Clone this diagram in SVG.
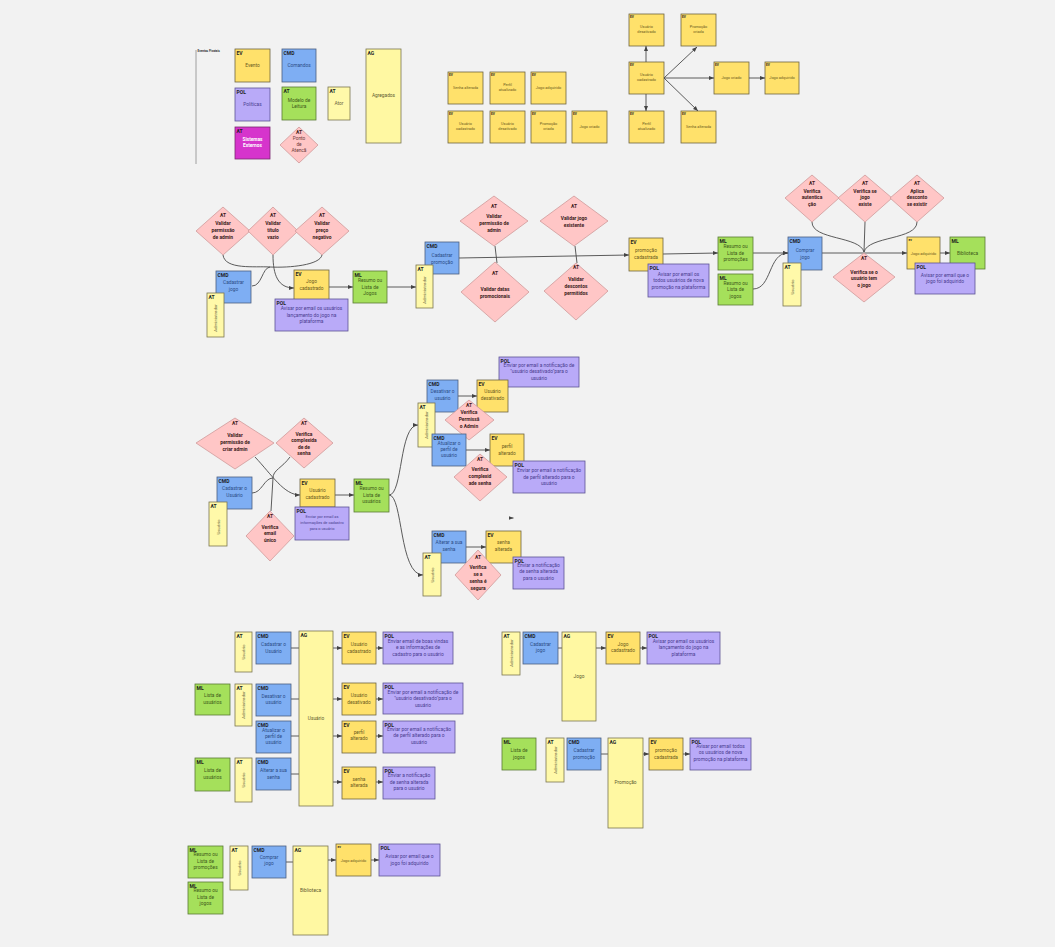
<svg xmlns="http://www.w3.org/2000/svg" width="1055" height="947" viewBox="0 0 1055 947">
<defs>
<marker id="ah" viewBox="0 0 10 10" refX="10" refY="5" markerWidth="5" markerHeight="5" markerUnits="userSpaceOnUse" orient="auto"><path d="M0,1 L10,5 L0,9 z" fill="#444"/></marker>
<style>
text{font-family:Roboto,"Liberation Sans",sans-serif}
.ev{fill:#ffe16b;stroke:#6e6440;stroke-width:0.8}
.cmd{fill:#7eaef3;stroke:#4c5f80;stroke-width:0.8}
.pol{fill:#b9aaf8;stroke:#5d5494;stroke-width:0.8}
.ml{fill:#a5e05b;stroke:#5b7a35;stroke-width:0.8}
.at{fill:#fff9a9;stroke:#7a7650;stroke-width:0.8}
.ag{fill:#fff8a2;stroke:#7a7650;stroke-width:0.8}
.ext{fill:#d634cc;stroke:#7a2a70;stroke-width:0.8}
.dia{fill:#ffc6c6;stroke:#cf9a9a;stroke-width:0.8}
.lb{font-size:5px;font-weight:bold;fill:#1e1e1e}
.sl{font-size:3.2px;font-weight:bold;fill:#1e1e1e}
.t{font-size:4.8px;text-anchor:middle}
.ts{font-size:3.8px;text-anchor:middle;fill:#6b5a1e}
.tp{font-size:4.9px;text-anchor:middle;fill:#4a3d90}
.c-ev{fill:#6b5a1e}
.c-cmd{fill:#2b4c86}
.c-ml{fill:#3d5a1a}
.c-at{fill:#6a6440}
.c-ag{fill:#5e5a30}
.d{font-size:4.9px;font-weight:bold;text-anchor:middle;fill:#3a1a1a}
.v{font-size:4.4px;text-anchor:middle;fill:#6a6440}
.cn{fill:none;stroke:#4a4a4a;stroke-width:0.9}
.cna{fill:none;stroke:#4a4a4a;stroke-width:0.9;marker-end:url(#ah)}
</style>
</defs>
<rect width="1055" height="947" fill="#f2f2f2"/>

<!-- LEGEND -->
<g id="legend-title"><line x1="196" y1="50" x2="196" y2="164" stroke="#8a8a8a" stroke-width="0.8"/><text x="197.5" y="52" style="font-size:3px;font-weight:bold;fill:#333">Eventos Pivotais</text></g>
<g id="leg-ev"><rect class="ev" x="235" y="49" width="35" height="33"/><text class="lb" x="236.5" y="54.5">EV</text><text class="t c-ev" x="252.5" y="67">Evento</text></g>
<g id="leg-cmd"><rect class="cmd" x="282" y="49" width="34" height="33"/><text class="lb" x="283.5" y="54.5">CMD</text><text class="t c-cmd" x="299" y="67">Comandos</text></g>
<g id="leg-pol"><rect class="pol" x="235" y="88" width="35" height="33"/><text class="lb" x="236.5" y="93.5">POL</text><text class="t" style="fill:#4a3d90" x="252.5" y="106">Políticas</text></g>
<g id="leg-ml"><rect class="ml" x="282" y="87" width="34" height="33"/><text class="lb" x="283.5" y="92.5">AT</text><text class="t c-ml" x="299" y="102">Modelo de</text><text class="t c-ml" x="299" y="108">Leitura</text></g>
<g id="leg-at"><rect class="at" x="328" y="87" width="22" height="33"/><text class="lb" x="329.5" y="92.5">AT</text><text class="t c-at" x="339" y="105">Ator</text></g>
<g id="leg-ext"><rect class="ext" x="235" y="127" width="35" height="32"/><text class="lb" x="236.5" y="132.5">AT</text><text class="t" style="fill:#fff;font-weight:bold" x="252.5" y="141">Sistemas</text><text class="t" style="fill:#fff;font-weight:bold" x="252.5" y="147">Externos</text></g>
<g id="leg-dia"><polygon class="dia" points="299,127 318,145 299,163 280,145"/><text class="d" x="299" y="134">AT</text><text class="t" style="fill:#6a3a3a" x="299" y="140">Ponto</text><text class="t" style="fill:#6a3a3a" x="299" y="146">de</text><text class="t" style="fill:#6a3a3a" x="299" y="152">Atencã</text></g>
<g id="leg-ag"><rect class="ag" x="366" y="49" width="35" height="94"/><text class="lb" x="367.5" y="54.5">AG</text><text class="t c-ag" x="383.5" y="97">Agregados</text></g>

<!-- PIVOTAL EVENTS -->
<g id="pe-senha"><rect class="ev" x="448" y="72" width="35" height="32"/><text class="sl" x="449" y="75.5">EV</text><text class="ts" x="465.5" y="89">Senha alterada</text></g>
<g id="pe-perfil"><rect class="ev" x="490" y="72" width="35" height="32"/><text class="sl" x="491" y="75.5">EV</text><text class="ts" x="507.5" y="86">Perfil</text><text class="ts" x="507.5" y="91">atualizado</text></g>
<g id="pe-jogoadq"><rect class="ev" x="531" y="72" width="35" height="32"/><text class="sl" x="532" y="75.5">EV</text><text class="ts" x="548.5" y="89">Jogo adquirido</text></g>
<g id="pe-usucad"><rect class="ev" x="448" y="111" width="35" height="32"/><text class="sl" x="449" y="114.5">EV</text><text class="ts" x="465.5" y="125">Usuário</text><text class="ts" x="465.5" y="130">cadastrado</text></g>
<g id="pe-usudes"><rect class="ev" x="490" y="111" width="35" height="32"/><text class="sl" x="491" y="114.5">EV</text><text class="ts" x="507.5" y="125">Usuário</text><text class="ts" x="507.5" y="130">desativado</text></g>
<g id="pe-promo"><rect class="ev" x="531" y="111" width="35" height="32"/><text class="sl" x="532" y="114.5">EV</text><text class="ts" x="548.5" y="125">Promoção</text><text class="ts" x="548.5" y="130">criada</text></g>
<g id="pe-jogocri"><rect class="ev" x="572" y="111" width="35" height="32"/><text class="sl" x="573" y="114.5">EV</text><text class="ts" x="589.5" y="128">Jogo criado</text></g>

<!-- TOP RIGHT TIMELINE -->
<g id="tr-usudes"><rect class="ev" x="629" y="14" width="35" height="32"/><text class="sl" x="630" y="17.5">EV</text><text class="ts" x="646.5" y="28">Usuário</text><text class="ts" x="646.5" y="33">desativado</text></g>
<g id="tr-promo"><rect class="ev" x="681" y="14" width="35" height="32"/><text class="sl" x="682" y="17.5">EV</text><text class="ts" x="698.5" y="28">Promoção</text><text class="ts" x="698.5" y="33">criada</text></g>
<g id="tr-usucad"><rect class="ev" x="629" y="62" width="35" height="32"/><text class="sl" x="630" y="65.5">EV</text><text class="ts" x="646.5" y="76">Usuário</text><text class="ts" x="646.5" y="81">cadastrado</text></g>
<g id="tr-jogocri"><rect class="ev" x="714" y="62" width="35" height="32"/><text class="sl" x="715" y="65.5">EV</text><text class="ts" x="731.5" y="79">Jogo criado</text></g>
<g id="tr-jogoadq"><rect class="ev" x="765" y="62" width="34" height="32"/><text class="sl" x="766" y="65.5">EV</text><text class="ts" x="782" y="79">Jogo adquirido</text></g>
<g id="tr-perfil"><rect class="ev" x="629" y="111" width="35" height="32"/><text class="sl" x="630" y="114.5">EV</text><text class="ts" x="646.5" y="125">Perfil</text><text class="ts" x="646.5" y="130">atualizado</text></g>
<g id="tr-senha"><rect class="ev" x="681" y="111" width="35" height="32"/><text class="sl" x="682" y="114.5">EV</text><text class="ts" x="698.5" y="128">Senha alterada</text></g>

<!-- CONNECTORS -->
<g id="connectors">
<path class="cna" d="M646,62 L646,46"/>
<path class="cna" d="M646,94 L646,111"/>
<path class="cna" d="M664,78 L697,47"/>
<path class="cna" d="M664,78 L714,78"/>
<path class="cna" d="M664,78 L698,111"/>
<path class="cna" d="M749,78 L765,78"/>

<path class="cn" d="M223,255 C225,270 255,266 270,267 C290,268 320,265 322,255"/>
<path class="cna" d="M273,255 C273,275 278,288 294,288"/>
<path class="cn" d="M252,286 C262,286 262,268 270,267"/>
<path class="cna" d="M329,287 L353,287"/>
<path class="cna" d="M387,287 L416,287"/>
<path class="cna" d="M459,258 L629,255"/>
<path class="cn" d="M495,246 L497,263"/>
<path class="cn" d="M575,246 L577,263"/>
<path class="cna" d="M663,254 L718,253"/>
<path class="cna" d="M753,253 L788,253"/>
<path class="cna" d="M753,289 C772,289 768,253 788,253"/>
<path class="cna" d="M822,253 L907,253"/>
<path class="cn" d="M812,222 C812,240 860,236 864,252"/>
<path class="cn" d="M865,222 L864,252"/>
<path class="cn" d="M917,222 C917,240 868,236 864,252"/>
<path class="cna" d="M940,253 L950,253"/>

<path class="cna" d="M255,457 C272,475 284,495 300,495"/>
<path class="cn" d="M252,493 C262,493 264,478 273,478"/>
<path class="cn" d="M290,457 C282,468 273,470 273,478 L271,511"/>
<path class="cna" d="M335,495 L354,495"/>
<path class="cna" d="M389,495 C403,495 399,425 418,425"/>
<path class="cna" d="M389,495 C403,495 399,575 423,575"/>
<path class="cna" d="M458,396 L477,396"/>
<path class="cna" d="M466,450 L490,450"/>
<path class="cna" d="M466,547 L486,547"/>
<path class="cna" d="M510,518 L513.5,518"/>

<path class="cn" d="M291,648 L299,648"/>
<path class="cn" d="M291,699 L299,699"/>
<path class="cn" d="M291,736 L299,736"/>
<path class="cn" d="M291,774 L299,774"/>
<path class="cna" d="M333,648 L342,648"/>
<path class="cna" d="M333,699 L342,699"/>
<path class="cna" d="M333,736 L342,736"/>
<path class="cna" d="M333,782 L342,782"/>
<path class="cna" d="M376,648 L383,648"/>
<path class="cna" d="M376,699 L383,699"/>
<path class="cna" d="M376,736 L383,736"/>
<path class="cna" d="M376,782 L383,782"/>

<path class="cn" d="M558,648 L562,648"/>
<path class="cna" d="M596,648 L606,648"/>
<path class="cna" d="M640,648 L647,648"/>
<path class="cn" d="M601,754 L608,754"/>
<path class="cna" d="M643,754 L649,754"/>
<path class="cna" d="M683,754 L690,754"/>

<path class="cn" d="M286,862 L293,862"/>
<path class="cna" d="M328,860 L336,860"/>
<path class="cna" d="M371,860 L379,860"/>
</g>

<!-- ROW 2: CADASTRAR JOGO -->
<g id="r2-dia1"><polygon class="dia" points="223,207 250,231 223,255 196,231"/><text class="d" x="223" y="217">AT</text><text class="d" x="223" y="225">Validar</text><text class="d" x="223" y="232">permissão</text><text class="d" x="223" y="239">de admin</text></g>
<g id="r2-dia2"><polygon class="dia" points="273,207 298,231 273,255 248,231"/><text class="d" x="273" y="217">AT</text><text class="d" x="273" y="225">Validar</text><text class="d" x="273" y="232">título</text><text class="d" x="273" y="239">vazio</text></g>
<g id="r2-dia3"><polygon class="dia" points="322,207 349,231 322,255 295,231"/><text class="d" x="322" y="217">AT</text><text class="d" x="322" y="225">Validar</text><text class="d" x="322" y="232">preço</text><text class="d" x="322" y="239">negativo</text></g>
<g id="r2-cmd"><rect class="cmd" x="216" y="271" width="35" height="32"/><text class="lb" x="217.5" y="276.5">CMD</text><text class="t c-cmd" x="233.5" y="284">Cadastrar</text><text class="t c-cmd" x="233.5" y="291">jogo</text></g>
<g id="r2-at"><rect class="at" x="207" y="293" width="17" height="44"/><text class="lb" x="208.5" y="298.5">AT</text><text class="v" transform="rotate(-90 215.5 318)" x="215.5" y="319.5">Administrador</text></g>
<g id="r2-ev"><rect class="ev" x="294" y="270" width="35" height="30"/><text class="lb" x="295.5" y="275.5">EV</text><text class="t c-ev" x="311.5" y="283">Jogo</text><text class="t c-ev" x="311.5" y="290">cadastrado</text></g>
<g id="r2-pol"><rect class="pol" x="275" y="299" width="73" height="32"/><text class="lb" x="276.5" y="304.5">POL</text><text class="tp" x="311.5" y="310">Avisar por email os usuários</text><text class="tp" x="311.5" y="316.5">lançamento do jogo na</text><text class="tp" x="311.5" y="323">plataforma</text></g>
<g id="r2-ml"><rect class="ml" x="353" y="271" width="34" height="32"/><text class="lb" x="354.5" y="276.5">ML</text><text class="t c-ml" x="370" y="282">Resumo ou</text><text class="t c-ml" x="370" y="288.5">Lista de</text><text class="t c-ml" x="370" y="295">Jogos</text></g>

<!-- ROW 2: CADASTRAR PROMOCAO -->
<g id="r2-cmd2"><rect class="cmd" x="425" y="242" width="34" height="32"/><text class="lb" x="426.5" y="247.5">CMD</text><text class="t c-cmd" x="442" y="257">Cadastrar</text><text class="t c-cmd" x="442" y="264">promoção</text></g>
<g id="r2-at2"><rect class="at" x="416" y="265" width="17" height="43"/><text class="lb" x="417.5" y="270.5">AT</text><text class="v" transform="rotate(-90 424.5 290)" x="424.5" y="291.5">Administrador</text></g>
<g id="r2-dia4"><polygon class="dia" points="494,196 528,221 494,246 460,221"/><text class="d" x="494" y="208">AT</text><text class="d" x="494" y="218">Validar</text><text class="d" x="494" y="225">permissão de</text><text class="d" x="494" y="232">admin</text></g>
<g id="r2-dia5"><polygon class="dia" points="495,262 529,292 495,322 461,292"/><text class="d" x="495" y="275">AT</text><text class="d" x="495" y="291">Validar datas</text><text class="d" x="495" y="298">promocionais</text></g>
<g id="r2-dia6"><polygon class="dia" points="574,196 608,221 574,246 540,221"/><text class="d" x="574" y="208">AT</text><text class="d" x="574" y="220">Validar jogo</text><text class="d" x="574" y="227">existente</text></g>
<g id="r2-dia7"><polygon class="dia" points="576,263 608,291 576,320 544,291"/><text class="d" x="576" y="269">AT</text><text class="d" x="576" y="281">Validar</text><text class="d" x="576" y="288">descontos</text><text class="d" x="576" y="295">permitidos</text></g>
<g id="r2-ev2"><rect class="ev" x="629" y="238" width="34" height="33"/><text class="lb" x="630.5" y="243.5">EV</text><text class="t c-ev" x="646" y="252">promoção</text><text class="t c-ev" x="646" y="259">cadastrada</text></g>
<g id="r2-pol2"><rect class="pol" x="648" y="264" width="61" height="33"/><text class="lb" x="649.5" y="269.5">POL</text><text class="tp" x="678.5" y="275.5">Avisar por email os</text><text class="tp" x="678.5" y="282">todos usuários de nova</text><text class="tp" x="678.5" y="288.5">promoção na plataforma</text></g>

<!-- ROW 2: COMPRAR JOGO -->
<g id="r2-mlpromo"><rect class="ml" x="718" y="237" width="35" height="33"/><text class="lb" x="719.5" y="242.5">ML</text><text class="t c-ml" x="735.5" y="248">Resumo ou</text><text class="t c-ml" x="735.5" y="254.5">Lista de</text><text class="t c-ml" x="735.5" y="261">promoções</text></g>
<g id="r2-mljogos"><rect class="ml" x="718" y="274" width="35" height="31"/><text class="lb" x="719.5" y="279.5">ML</text><text class="t c-ml" x="735.5" y="284.5">Resumo ou</text><text class="t c-ml" x="735.5" y="291">Lista de</text><text class="t c-ml" x="735.5" y="297.5">jogos</text></g>
<g id="r2-cmd3"><rect class="cmd" x="788" y="237" width="34" height="33"/><text class="lb" x="789.5" y="242.5">CMD</text><text class="t c-cmd" x="805" y="252">Comprar</text><text class="t c-cmd" x="805" y="258.5">jogo</text></g>
<g id="r2-at3"><rect class="at" x="783" y="263" width="18" height="43"/><text class="lb" x="784.5" y="268.5">AT</text><text class="v" transform="rotate(-90 792 287)" x="792" y="288.5">Usuário</text></g>
<g id="r2-dia8"><polygon class="dia" points="812,175 839,198 812,222 785,198"/><text class="d" x="812" y="185">AT</text><text class="d" x="812" y="192.5">Verifica</text><text class="d" x="812" y="199">autentica</text><text class="d" x="812" y="205.5">ção</text></g>
<g id="r2-dia9"><polygon class="dia" points="865,175 892,198 865,222 838,198"/><text class="d" x="865" y="185">AT</text><text class="d" x="865" y="192.5">Verifica se</text><text class="d" x="865" y="199">jogo</text><text class="d" x="865" y="205.5">existe</text></g>
<g id="r2-dia10"><polygon class="dia" points="917,175 944,198 917,222 890,198"/><text class="d" x="917" y="185">AT</text><text class="d" x="917" y="192.5">Aplica</text><text class="d" x="917" y="199">desconto</text><text class="d" x="917" y="205.5">se existir</text></g>
<g id="r2-dia11"><polygon class="dia" points="864,253 895,277 864,302 833,277"/><text class="d" x="864" y="260">AT</text><text class="d" x="864" y="273.5">Verifica se o</text><text class="d" x="864" y="280">usuário tem</text><text class="d" x="864" y="286.5">o jogo</text></g>
<g id="r2-ev3"><rect class="ev" x="907" y="237" width="33" height="32"/><text class="sl" x="908.5" y="241">ev</text><text class="ts" x="923.5" y="254.5">Jogo adquirido</text></g>
<g id="r2-mlbib"><rect class="ml" x="950" y="237" width="35" height="32"/><text class="lb" x="951.5" y="242.5">ML</text><text class="t c-ml" x="967.5" y="254.5">Biblioteca</text></g>
<g id="r2-pol3"><rect class="pol" x="915" y="263" width="60" height="31"/><text class="lb" x="916.5" y="268.5">POL</text><text class="tp" x="945" y="276.5">Avisar por email que o</text><text class="tp" x="945" y="283">jogo foi adquirido</text></g>

<!-- ROW 3: CADASTRAR USUARIO -->
<g id="r3-dia1"><polygon class="dia" points="235,418 274,443 235,469 196,443"/><text class="d" x="235" y="425">AT</text><text class="d" x="235" y="437">Validar</text><text class="d" x="235" y="444">permissão de</text><text class="d" x="235" y="451">criar admin</text></g>
<g id="r3-dia2"><polygon class="dia" points="304,418 333,443 304,468 276,443"/><text class="d" x="304" y="425">AT</text><text class="d" x="304" y="435.5">Verifica</text><text class="d" x="304" y="442">complexida</text><text class="d" x="304" y="448.5">de de</text><text class="d" x="304" y="455">senha</text></g>
<g id="r3-cmd"><rect class="cmd" x="217" y="477" width="35" height="32"/><text class="lb" x="218.5" y="482.5">CMD</text><text class="t c-cmd" x="234.5" y="490">Cadastrar o</text><text class="t c-cmd" x="234.5" y="497">Usuário</text></g>
<g id="r3-at"><rect class="at" x="209" y="502" width="18" height="44"/><text class="lb" x="210.5" y="507.5">AT</text><text class="v" transform="rotate(-90 218 527)" x="218" y="528.5">Usuário</text></g>
<g id="r3-dia3"><polygon class="dia" points="270,511 294,536 270,561 246,536"/><text class="d" x="270" y="518">AT</text><text class="d" x="270" y="528.5">Verifica</text><text class="d" x="270" y="535">email</text><text class="d" x="270" y="541.5">único</text></g>
<g id="r3-ev"><rect class="ev" x="300" y="479" width="35" height="28"/><text class="lb" x="301.5" y="484.5">EV</text><text class="t c-ev" x="317.5" y="492">Usuário</text><text class="t c-ev" x="317.5" y="499">cadastrado</text></g>
<g id="r3-pol"><rect class="pol" x="295" y="507" width="54" height="33"/><text class="lb" x="296.5" y="512.5">POL</text><text class="tp" style="font-size:3.9px" x="322" y="518">Enviar  por email as</text><text class="tp" style="font-size:3.9px" x="322" y="524">informações de cadastro</text><text class="tp" style="font-size:3.9px" x="322" y="530">para o usuário</text></g>
<g id="r3-ml"><rect class="ml" x="354" y="479" width="35" height="33"/><text class="lb" x="355.5" y="484.5">ML</text><text class="t c-ml" x="371.5" y="490">Resumo ou</text><text class="t c-ml" x="371.5" y="496.5">Lista de</text><text class="t c-ml" x="371.5" y="503">usuários</text></g>

<!-- ROW 3: DESATIVAR / ATUALIZAR / ALTERAR -->
<g id="r3-pol1"><rect class="pol" x="499" y="357" width="80" height="30"/><text class="lb" x="500.5" y="362.5">POL</text><text class="tp" x="539" y="366.5">Enviar por email a notificação de</text><text class="tp" x="539" y="373">"usuário desativado"para o</text><text class="tp" x="539" y="379.5">usuário</text></g>
<g id="r3-cmd2"><rect class="cmd" x="427" y="380" width="31" height="32"/><text class="lb" x="428.5" y="385.5">CMD</text><text class="t c-cmd" x="442.5" y="393">Desativar o</text><text class="t c-cmd" x="442.5" y="399.5">usuário</text></g>
<g id="r3-ev2"><rect class="ev" x="477" y="380" width="31" height="32"/><text class="lb" x="478.5" y="385.5">EV</text><text class="t c-ev" x="492.5" y="393">Usuário</text><text class="t c-ev" x="492.5" y="399.5">desativado</text></g>
<g id="r3-at2"><rect class="at" x="418" y="403" width="17" height="44"/><text class="lb" x="419.5" y="408.5">AT</text><text class="v" transform="rotate(-90 426.5 425)" x="426.5" y="426.5">Administrador</text></g>
<g id="r3-dia4"><polygon class="dia" points="469,400 494,420 469,440 445,420"/><text class="d" x="469" y="407">AT</text><text class="d" x="469" y="414">Verifica</text><text class="d" x="469" y="421">Permissã</text><text class="d" x="469" y="427.5">o Admin</text></g>
<g id="r3-cmd3"><rect class="cmd" x="432" y="434" width="34" height="32"/><text class="lb" x="433.5" y="439.5">CMD</text><text class="t c-cmd" x="449" y="445">Atualizar o</text><text class="t c-cmd" x="449" y="451">perfil de</text><text class="t c-cmd" x="449" y="457">usuário</text></g>
<g id="r3-ev3"><rect class="ev" x="490" y="434" width="34" height="32"/><text class="lb" x="491.5" y="439.5">EV</text><text class="t c-ev" x="507" y="448">perfil</text><text class="t c-ev" x="507" y="455">alterado</text></g>
<g id="r3-dia5"><polygon class="dia" points="480,454 507,477 480,501 454,477"/><text class="d" x="480" y="461">AT</text><text class="d" x="480" y="470.5">Verifica</text><text class="d" x="480" y="477.5">complexid</text><text class="d" x="480" y="484.5">ade senha</text></g>
<g id="r3-pol2"><rect class="pol" x="513" y="461" width="72" height="32"/><text class="lb" x="514.5" y="466.5">POL</text><text class="tp" x="549" y="472">Enviar por email a notificação</text><text class="tp" x="549" y="478.5">de perfil alterado para o</text><text class="tp" x="549" y="485">usuário</text></g>
<g id="r3-cmd4"><rect class="cmd" x="432" y="531" width="34" height="32"/><text class="lb" x="433.5" y="536.5">CMD</text><text class="t c-cmd" x="449" y="544">Alterar a sua</text><text class="t c-cmd" x="449" y="551">senha</text></g>
<g id="r3-ev4"><rect class="ev" x="486" y="531" width="35" height="32"/><text class="lb" x="487.5" y="536.5">EV</text><text class="t c-ev" x="503.5" y="544">senha</text><text class="t c-ev" x="503.5" y="551">alterada</text></g>
<g id="r3-at3"><rect class="at" x="423" y="553" width="18" height="43"/><text class="lb" x="424.5" y="558.5">AT</text><text class="v" transform="rotate(-90 432 575)" x="432" y="576.5">Usuário</text></g>
<g id="r3-dia6"><polygon class="dia" points="478,550 501,575 478,600 455,575"/><text class="d" x="478" y="559">AT</text><text class="d" x="478" y="569">Verifica</text><text class="d" x="478" y="576">se a</text><text class="d" x="478" y="583">senha é</text><text class="d" x="478" y="589.5">segura</text></g>
<g id="r3-pol3"><rect class="pol" x="513" y="557" width="51" height="32"/><text class="lb" x="514.5" y="562.5">POL</text><text class="tp" x="538.5" y="566.5">Enviar a notificação</text><text class="tp" x="538.5" y="573">de senha alterada</text><text class="tp" x="538.5" y="579.5">para o usuário</text></g>

<!-- ROW 4: USUARIO AGGREGATE -->
<g id="r4-at1"><rect class="at" x="235" y="632" width="17" height="40"/><text class="lb" x="236.5" y="637.5">AT</text><text class="v" transform="rotate(-90 243.5 652)" x="243.5" y="653.5">Usuário</text></g>
<g id="r4-cmd1"><rect class="cmd" x="256" y="632" width="35" height="32"/><text class="lb" x="257.5" y="637.5">CMD</text><text class="t c-cmd" x="273.5" y="646">Cadastrar o</text><text class="t c-cmd" x="273.5" y="652.5">Usuário</text></g>
<g id="r4-ag1"><rect class="ag" x="299" y="631" width="34" height="175"/><text class="lb" x="300.5" y="636.5">AG</text><text class="t c-ag" x="316" y="720">Usuário</text></g>
<g id="r4-ev1"><rect class="ev" x="342" y="632" width="34" height="32"/><text class="lb" x="343.5" y="637.5">EV</text><text class="t c-ev" x="359" y="646">Usuário</text><text class="t c-ev" x="359" y="652.5">cadastrado</text></g>
<g id="r4-pol1"><rect class="pol" x="383" y="632" width="70" height="32"/><text class="lb" x="384.5" y="637.5">POL</text><text class="tp" x="418" y="642.5">Enviar email de boas vindas</text><text class="tp" x="418" y="649">e as informações de</text><text class="tp" x="418" y="655.5">cadastro para o usuário</text></g>
<g id="r4-ml1"><rect class="ml" x="195" y="684" width="35" height="31"/><text class="lb" x="196.5" y="689.5">ML</text><text class="t c-ml" x="212.5" y="697">Lista de</text><text class="t c-ml" x="212.5" y="703.5">usuários</text></g>
<g id="r4-at2"><rect class="at" x="235" y="684" width="17" height="42"/><text class="lb" x="236.5" y="689.5">AT</text><text class="v" transform="rotate(-90 243.5 705)" x="243.5" y="706.5">Administrador</text></g>
<g id="r4-cmd2"><rect class="cmd" x="256" y="684" width="35" height="32"/><text class="lb" x="257.5" y="689.5">CMD</text><text class="t c-cmd" x="273.5" y="697.5">Desativar o</text><text class="t c-cmd" x="273.5" y="704">usuário</text></g>
<g id="r4-ev2"><rect class="ev" x="342" y="683" width="34" height="32"/><text class="lb" x="343.5" y="688.5">EV</text><text class="t c-ev" x="359" y="697">Usuário</text><text class="t c-ev" x="359" y="703.5">desativado</text></g>
<g id="r4-pol2"><rect class="pol" x="383" y="683" width="80" height="31"/><text class="lb" x="384.5" y="688.5">POL</text><text class="tp" x="423" y="693.5">Enviar por email a notificação de</text><text class="tp" x="423" y="700">"usuário desativado"para o</text><text class="tp" x="423" y="706.5">usuário</text></g>
<g id="r4-cmd3"><rect class="cmd" x="256" y="721" width="35" height="32"/><text class="lb" x="257.5" y="726.5">CMD</text><text class="t c-cmd" x="273.5" y="731.5">Atualizar o</text><text class="t c-cmd" x="273.5" y="737.5">perfil de</text><text class="t c-cmd" x="273.5" y="743.5">usuário</text></g>
<g id="r4-ev3"><rect class="ev" x="342" y="721" width="34" height="32"/><text class="lb" x="343.5" y="726.5">EV</text><text class="t c-ev" x="359" y="733.5">perfil</text><text class="t c-ev" x="359" y="740">alterado</text></g>
<g id="r4-pol3"><rect class="pol" x="383" y="721" width="72" height="32"/><text class="lb" x="384.5" y="726.5">POL</text><text class="tp" x="419" y="730.5">Enviar por email a notificação</text><text class="tp" x="419" y="737">de perfil alterado para o</text><text class="tp" x="419" y="743.5">usuário</text></g>
<g id="r4-ml2"><rect class="ml" x="195" y="758" width="35" height="33"/><text class="lb" x="196.5" y="763.5">ML</text><text class="t c-ml" x="212.5" y="772">Lista de</text><text class="t c-ml" x="212.5" y="778.5">usuários</text></g>
<g id="r4-at3"><rect class="at" x="235" y="758" width="17" height="44"/><text class="lb" x="236.5" y="763.5">AT</text><text class="v" transform="rotate(-90 243.5 780)" x="243.5" y="781.5">Usuário</text></g>
<g id="r4-cmd4"><rect class="cmd" x="256" y="758" width="35" height="32"/><text class="lb" x="257.5" y="763.5">CMD</text><text class="t c-cmd" x="273.5" y="772">Alterar a sua</text><text class="t c-cmd" x="273.5" y="778.5">senha</text></g>
<g id="r4-ev4"><rect class="ev" x="342" y="767" width="34" height="32"/><text class="lb" x="343.5" y="772.5">EV</text><text class="t c-ev" x="359" y="780.5">senha</text><text class="t c-ev" x="359" y="787">alterada</text></g>
<g id="r4-pol4"><rect class="pol" x="383" y="767" width="52" height="32"/><text class="lb" x="384.5" y="772.5">POL</text><text class="tp" x="409" y="777">Enviar a notificação</text><text class="tp" x="409" y="783.5">de senha alterada</text><text class="tp" x="409" y="790">para o usuário</text></g>

<!-- ROW 4: JOGO / PROMOCAO AGGREGATES -->
<g id="r4-at4"><rect class="at" x="502" y="632" width="18" height="43"/><text class="lb" x="503.5" y="637.5">AT</text><text class="v" transform="rotate(-90 511 653)" x="511" y="654.5">Administrador</text></g>
<g id="r4-cmd5"><rect class="cmd" x="523" y="632" width="35" height="32"/><text class="lb" x="524.5" y="637.5">CMD</text><text class="t c-cmd" x="540.5" y="645.5">Cadastrar</text><text class="t c-cmd" x="540.5" y="652">jogo</text></g>
<g id="r4-ag2"><rect class="ag" x="562" y="632" width="34" height="89"/><text class="lb" x="563.5" y="637.5">AG</text><text class="t c-ag" x="579" y="678">Jogo</text></g>
<g id="r4-ev5"><rect class="ev" x="606" y="632" width="34" height="32"/><text class="lb" x="607.5" y="637.5">EV</text><text class="t c-ev" x="623" y="645.5">Jogo</text><text class="t c-ev" x="623" y="652">cadastrado</text></g>
<g id="r4-pol5"><rect class="pol" x="647" y="632" width="73" height="32"/><text class="lb" x="648.5" y="637.5">POL</text><text class="tp" x="683.5" y="642.5">Avisar por email os usuários</text><text class="tp" x="683.5" y="649">lançamento do jogo na</text><text class="tp" x="683.5" y="655.5">plataforma</text></g>
<g id="r4-ml3"><rect class="ml" x="502" y="738" width="34" height="32"/><text class="lb" x="503.5" y="743.5">ML</text><text class="t c-ml" x="519" y="752">Lista de</text><text class="t c-ml" x="519" y="758.5">jogos</text></g>
<g id="r4-at5"><rect class="at" x="546" y="738" width="18" height="44"/><text class="lb" x="547.5" y="743.5">AT</text><text class="v" transform="rotate(-90 555 760)" x="555" y="761.5">Administrador</text></g>
<g id="r4-cmd6"><rect class="cmd" x="567" y="738" width="34" height="32"/><text class="lb" x="568.5" y="743.5">CMD</text><text class="t c-cmd" x="584" y="752">Cadastrar</text><text class="t c-cmd" x="584" y="758.5">promoção</text></g>
<g id="r4-ag3"><rect class="ag" x="608" y="738" width="35" height="90"/><text class="lb" x="609.5" y="743.5">AG</text><text class="t c-ag" x="625.5" y="784">Promoção</text></g>
<g id="r4-ev6"><rect class="ev" x="649" y="738" width="34" height="32"/><text class="lb" x="650.5" y="743.5">EV</text><text class="t c-ev" x="666" y="752">promoção</text><text class="t c-ev" x="666" y="758.5">cadastrada</text></g>
<g id="r4-pol6"><rect class="pol" x="690" y="738" width="61" height="32"/><text class="lb" x="691.5" y="743.5">POL</text><text class="tp" x="720.5" y="747.5">Avisar por email todos</text><text class="tp" x="720.5" y="754">os usuários de nova</text><text class="tp" x="720.5" y="760.5">promoção na plataforma</text></g>

<!-- BOTTOM: BIBLIOTECA -->
<g id="b-ml1"><rect class="ml" x="188" y="846" width="35" height="32"/><text class="lb" x="189.5" y="851.5">ML</text><text class="t c-ml" x="205.5" y="856">Resumo ou</text><text class="t c-ml" x="205.5" y="862.5">Lista de</text><text class="t c-ml" x="205.5" y="869">promoções</text></g>
<g id="b-ml2"><rect class="ml" x="188" y="882" width="35" height="32"/><text class="lb" x="189.5" y="887.5">ML</text><text class="t c-ml" x="205.5" y="892">Resumo ou</text><text class="t c-ml" x="205.5" y="898.5">Lista de</text><text class="t c-ml" x="205.5" y="905">jogos</text></g>
<g id="b-at"><rect class="at" x="230" y="846" width="18" height="44"/><text class="lb" x="231.5" y="851.5">AT</text><text class="v" transform="rotate(-90 239 868)" x="239" y="869.5">Usuário</text></g>
<g id="b-cmd"><rect class="cmd" x="252" y="846" width="34" height="32"/><text class="lb" x="253.5" y="851.5">CMD</text><text class="t c-cmd" x="269" y="858.5">Comprar</text><text class="t c-cmd" x="269" y="865">jogo</text></g>
<g id="b-ag"><rect class="ag" x="293" y="846" width="35" height="89"/><text class="lb" x="294.5" y="851.5">AG</text><text class="t c-ag" x="310.5" y="892">Biblioteca</text></g>
<g id="b-ev"><rect class="ev" x="336" y="844" width="35" height="32"/><text class="sl" x="337.5" y="848">ev</text><text class="ts" x="353.5" y="861.5">Jogo adquirido</text></g>
<g id="b-pol"><rect class="pol" x="379" y="844" width="61" height="32"/><text class="lb" x="380.5" y="849.5">POL</text><text class="tp" x="409.5" y="858">Avisar por email que o</text><text class="tp" x="409.5" y="864.5">jogo foi adquirido</text></g>
</svg>
